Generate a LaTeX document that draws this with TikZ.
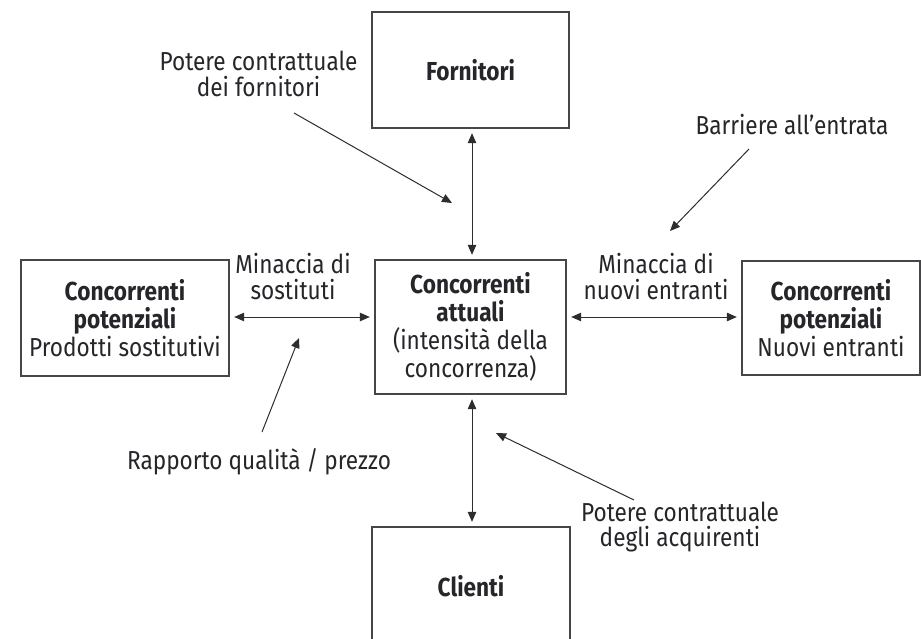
\documentclass[tikz,border=0pt]{standalone}
\usepackage{fontspec}
\setmainfont{Fira Sans}[FakeStretch=0.87]
\usetikzlibrary{arrows.meta}
\definecolor{ink}{RGB}{38,38,42}
\definecolor{edge}{RGB}{70,70,72}
\definecolor{wire}{RGB}{45,45,48}

\begin{document}
\begin{tikzpicture}[x=1pt,y=-1pt,
  every node/.style={text=ink},
  txt/.style={font=\fontsize{26}{25.5}\selectfont},
  boxtxt/.style={font=\fontsize{26}{28}\selectfont},
  box/.style={boxtxt, draw=edge, line width=1.4pt, inner sep=0pt, align=center},
  lbl/.style={txt, align=center, inner sep=0pt},
  link/.style={draw=wire, line width=1pt, {Triangle[length=10pt,width=8.5pt]}-{Triangle[length=10pt,width=8.5pt]},
    shorten >=4.5pt, shorten <=4.5pt},
  push/.style={draw=wire, line width=1pt, -{Triangle[length=10pt,width=8.5pt]}}]

\useasboundingbox (0,0) rectangle (921,639);
\fill[white] (0,0) rectangle (921,639);

% the five forces boxes
\node[box, minimum width=197pt, minimum height=116pt] (forn) at (470.5,70) {\textbf{Fornitori}};
\node[box, minimum width=191pt, minimum height=134pt] (cen) at (470.5,327)
  {\textbf{Concorrenti}\\\textbf{attuali}\\(intensità della\\concorrenza)};
\node[box, minimum width=208pt, minimum height=116pt] (sost) at (125,318)
  {\textbf{Concorrenti}\\\textbf{potenziali}\\Prodotti sostitutivi};
\node[box, minimum width=178pt, minimum height=114pt] (nuovi) at (831,318)
  {\textbf{Concorrenti}\\\textbf{potenziali}\\Nuovi entranti};
\node[box, minimum width=198pt, minimum height=118pt] (cli) at (471,586) {\textbf{Clienti}};

% labels
\node[lbl] (pf) at (258.5,74) {Potere contrattuale\\dei fornitori};
\node[lbl] (ba) at (792,125) {Barriere all’entrata};
\node[lbl] (ms) at (293,276.5) {Minaccia di\\sostituti};
\node[lbl] (mn) at (656,276.5) {Minaccia di\\nuovi entranti};
\node[lbl] (rq) at (259,462) {Rapporto qualità / prezzo};
\node[lbl] (pa) at (680,527) {Potere contrattuale\\degli acquirenti};

% ends of the influence arrows
\coordinate (pf0) at (294,113);
\coordinate (pf1) at (452,203);
\coordinate (ba0) at (749,149);
\coordinate (ba1) at (670,231);
\coordinate (rq0) at (262,432);
\coordinate (rq1) at (299,338);
\coordinate (pa0) at (634,500);
\coordinate (pa1) at (496,433);

% two-way links between the boxes
\draw[link] ([xshift=1.5pt]forn.south) -- ([xshift=1.5pt]cen.north);
\draw[link] ([xshift=1.5pt]cen.south) -- ([xshift=1pt]cli.north);
\draw[link] ([yshift=1pt]sost.east) -- ([yshift=1pt]sost.east -| cen.west);
\draw[link] ([yshift=1pt]nuovi.west -| cen.east) -- ([yshift=1pt]nuovi.west);

% influence arrows
\draw[push] (pf0) -- (pf1);
\draw[push] (ba0) -- (ba1);
\draw[push] (rq0) -- (rq1);
\draw[push] (pa0) -- (pa1);
\end{tikzpicture}
\end{document}
